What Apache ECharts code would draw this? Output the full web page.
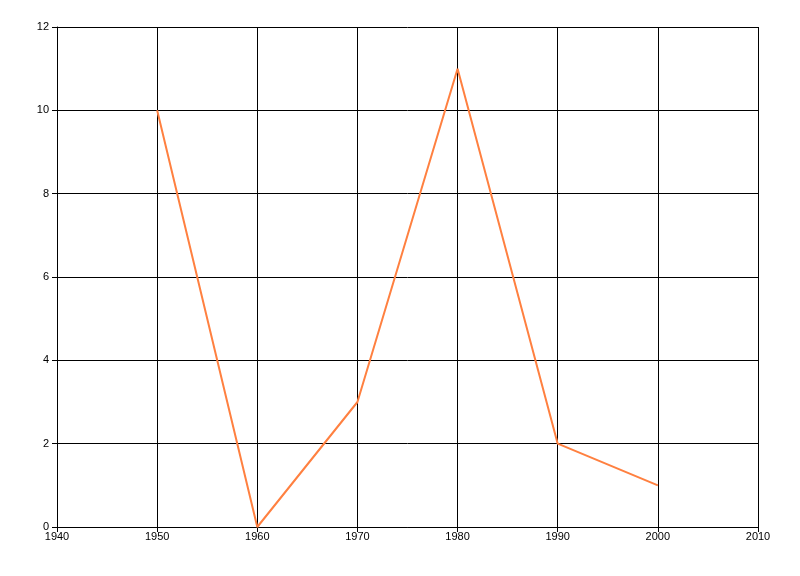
<!DOCTYPE html>
<html><head><meta charset="utf-8">
<script src="https://cdn.jsdelivr.net/npm/echarts@6/dist/echarts.min.js"></script>
<style>html,body{margin:0;padding:0;background:#fff}#c{width:800px;height:576px}</style>
</head><body><div id="c"></div>
<script>
const years = [1950, 1960, 1970, 1980, 1990, 2000];
const values = [10, 0, 3, 11, 2, 1];
const xTicks = [1940, 1950, 1960, 1970, 1980, 1990, 2000, 2010];
const yTicks = [0, 2, 4, 6, 8, 10, 12];

const chart = echarts.init(document.getElementById('c'), null, {renderer: 'canvas'});
const font = {fontFamily: 'Liberation Sans, Arial, sans-serif', fontSize: 11, color: '#000'};
chart.setOption({
  animation: false,
  grid: {left: 57, right: 42, top: 27, bottom: 49, containLabel: false},
  xAxis: {
    type: 'value', min: xTicks[0], max: xTicks[xTicks.length - 1], interval: 10,
    axisLine: {show: true, onZero: false, lineStyle: {color: '#000', width: 1}},
    axisTick: {show: true, length: 5, lineStyle: {color: '#000'}},
    axisLabel: Object.assign({margin: 4, formatter: v => String(v)}, font),
    splitLine: {show: true, lineStyle: {color: '#000', width: 1}}
  },
  yAxis: {
    type: 'value', min: yTicks[0], max: yTicks[yTicks.length - 1], interval: 2,
    axisLine: {show: true, lineStyle: {color: '#000', width: 1}},
    axisTick: {show: true, length: 5, lineStyle: {color: '#000'}},
    axisLabel: Object.assign({margin: 8, formatter: v => String(v)}, font),
    splitLine: {show: true, lineStyle: {color: '#000', width: 1}}
  },
  series: [{
    type: 'line',
    data: years.map((y, i) => [y, values[i]]),
    showSymbol: false,
    symbol: 'none',
    lineStyle: {color: '#ff8040', width: 2},
    itemStyle: {color: '#ff8040'}
  }]
});
</script></body></html>
